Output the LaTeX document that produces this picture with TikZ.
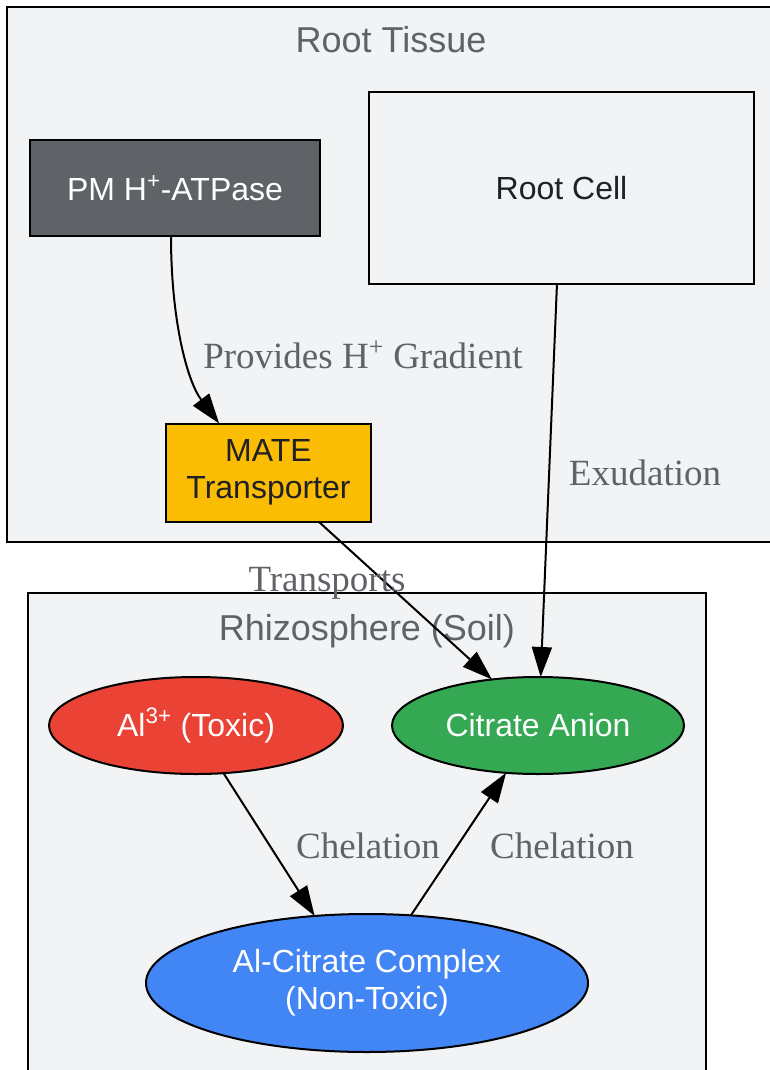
\documentclass[tikz,border=0pt]{standalone}
\usepackage{fontspec}
\setmainfont{Liberation Serif}
\setsansfont{Liberation Sans}
\usepackage{tikz}
\usetikzlibrary{shapes.geometric,arrows.meta,positioning}

\definecolor{clusterFill}{HTML}{F1F3F4}
\definecolor{labelGray}{HTML}{5F6368}
\definecolor{pumpGray}{HTML}{5F6368}
\definecolor{mateYellow}{HTML}{FBBC04}
\definecolor{alRed}{HTML}{EA4335}
\definecolor{citrateGreen}{HTML}{34A853}
\definecolor{complexBlue}{HTML}{4285F4}
\definecolor{darkText}{HTML}{202124}

\tikzset{
	cluster/.style={draw=black,line width=1.5pt,fill=clusterFill},
	clusterTitle/.style={text=labelGray,anchor=base,font=\sffamily\fontsize{27}{32}\selectfont},
	entity/.style={draw=black,line width=1.5pt,inner sep=0pt,outer sep=0pt,align=center,
		font=\sffamily\fontsize{24}{27.75}\selectfont},
	protein/.style={entity,rectangle},
	ion/.style={entity,ellipse,text=white},
	flow/.style={-{Triangle[length=22.5pt,width=15pt]},line width=1.5pt},
	flowLabel/.style={text=labelGray,anchor=base,font=\fontsize{27.75}{32}\selectfont}
}

\begin{document}
\begin{tikzpicture}[x=0.75pt,y=-0.75pt,node distance=36.75pt]
			\useasboundingbox (0,0) rectangle (769,1070);
			% clusters
			\draw[cluster] (7,7) rectangle (790,542);
			\draw[cluster] (28,593) rectangle (706,1090);
			\node[clusterTitle] (titleTissue) at (391,53) {Root Tissue};
			\node[clusterTitle] (titleSoil) at (367,640) {Rhizosphere (Soil)};
			% root tissue
			\node[protein,fill=pumpGray,text=white,minimum width=217.5pt,minimum height=72pt] (nodePump) at (175,188) {PM H\textsuperscript{+}-ATPase};
			\node[protein,fill=clusterFill,text=darkText,minimum width=288.75pt,minimum height=144pt] (nodeCell) [right = of nodePump] {Root Cell};
			\node[protein,fill=mateYellow,text=darkText,minimum width=153.75pt,minimum height=73.5pt] (nodeMate) at (268.5,472.5) {MATE\\Transporter};
			% rhizosphere
			\node[ion,fill=alRed,minimum width=220.5pt,minimum height=72.75pt] (nodeAl) at (196,725.5) {Al\textsuperscript{3+} (Toxic)};
			\node[ion,fill=citrateGreen,minimum width=219pt,minimum height=72.75pt] (nodeCitrate) [right = of nodeAl] {Citrate Anion};
			\node[ion,fill=complexBlue,minimum width=331.5pt,minimum height=103.5pt] (nodeComplex) at (367,983) {Al-Citrate Complex\\(Non-Toxic)};
			% edges
			\draw[flow] ([xshift=-3pt]nodePump.south) .. controls (171,320) and (187,381) .. ([xshift=-37pt]nodeMate.north);
			\path ([xshift=-3.4pt]nodeCell.south) edge[flow] ([xshift=2pt]nodeCitrate.north);
			\path ([xshift=37.5pt]nodeMate.south) edge[flow] (nodeCitrate.135);
			\path (nodeAl.300) edge[flow] (nodeComplex.128);
			\path (nodeComplex.57) edge[flow] (nodeCitrate.236);
			% edge labels
			\node[flowLabel] (labelGradient) at (363,368) {Provides H\textsuperscript{+} Gradient};
			\node[flowLabel] (labelExudation) at (645,485) {Exudation};
			\node[flowLabel] (labelTransports) at (327,591) {Transports};
			\node[flowLabel] (labelChelationA) at (368,858) {Chelation};
			\node[flowLabel] (labelChelationB) at (562,858) {Chelation};
		\end{tikzpicture}
\end{document}
